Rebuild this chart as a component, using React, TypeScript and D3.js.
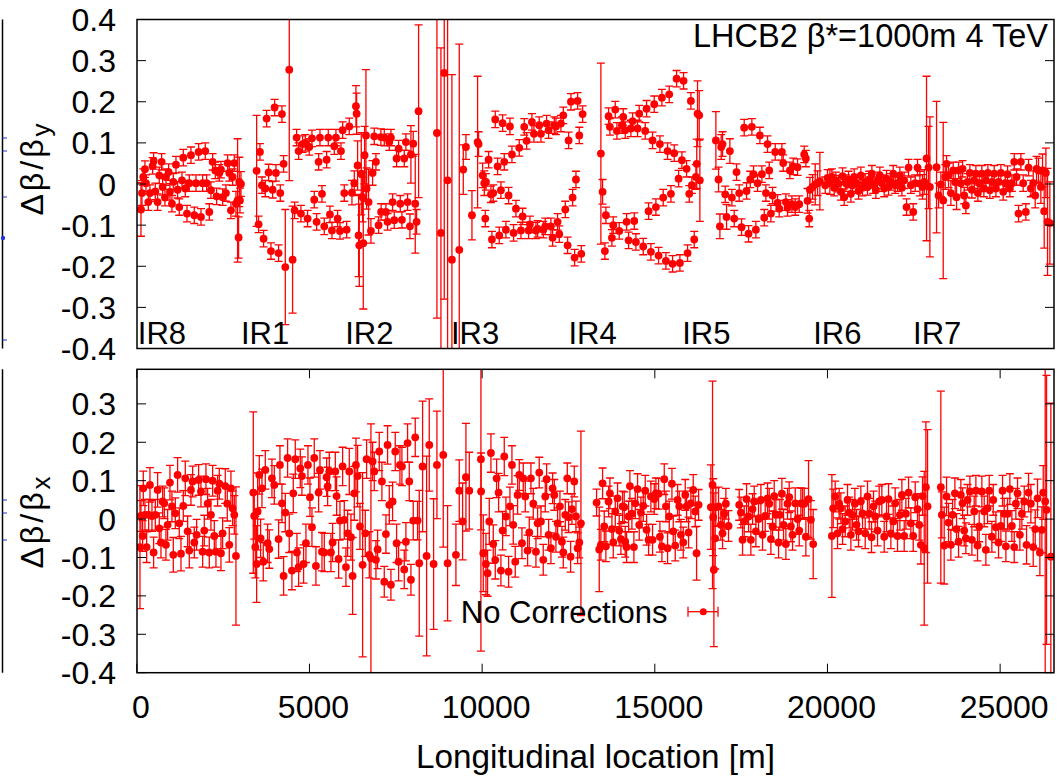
import React from "react";
import * as d3 from "d3";

type P = [number, number, number]; // [s (m), value, error]

// ---------- Δβ/βy (top panel) ----------
const dyIR8: P[] = [
[121,-0.062,0.065],[150,-0.022,0.03],[188,0.017,0.02],[236,0.036,0.02],[265,0.002,0.02],[333,-0.044,0.02],[381,-0.022,0.02],[458,0.044,0.02],[487,0.056,0.02],[536,-0.018,0.02],[603,-0.044,0.02],[651,0.021,0.02],[719,0.054,0.02],[748,-0.007,0.02],[815,-0.033,0.02],[844,0.017,0.02],[922,0.029,0.02],[960,-0.019,0.02],[1018,-0.048,0.02],[1057,0.005,0.02],[1134,0.047,0.02],[1182,-0.014,0.02],[1230,-0.056,0.02],[1308,0.009,0.02],[1346,0.064,0.02],[1404,-0.011,0.02],[1453,-0.072,0.02],[1520,0.002,0.02],[1568,0.07,0.02],[1665,-0.076,0.02],[1713,0.002,0.02],[1790,0.078,0.02],[1858,-0.08,0.02],[1906,0.002,0.02],[1983,0.08,0.02],[2022,0.002,0.02],[2099,-0.068,0.02],[2147,-0.015,0.02],[2196,0.054,0.02],[2273,0.033,0.02],[2311,-0.03,0.02],[2389,0.027,0.02],[2437,0.035,0.02],[2485,-0.032,0.02],[2581,-0.022,0.02],[2630,0.051,0.02],[2678,0.027,0.02],[2726,-0.064,0.02],[2774,0.017,0.02],[2823,0.051,0.02],[2871,-0.048,0.03],[2919,-0.04,0.15],[2948,-0.13,0.05],[2967,0.005,0.06],[2987,-0.04,0.03],[3016,0.0,0.03]
];
const dyIR1: P[] = [
[3470,0.032,0.135],[3527,-0.098,0.02],[3566,0.078,0.02],[3624,-0.003,0.02],[3672,-0.133,0.02],[3721,-0.011,0.02],[3759,0.159,0.02],[3817,0.028,0.02],[3885,-0.163,0.02],[3933,-0.014,0.02],[3991,0.186,0.02],[4029,0.027,0.02],[4106,-0.168,0.02],[4155,-0.022,0.02],[4203,0.17,0.02],[4251,0.049,0.02],[4300,-0.202,0.14],[4415,0.278,0.27],[4512,-0.184,0.13],[4570,-0.064,0.02],[4628,0.113,0.02],[4686,0.08,0.02],[4753,-0.072,0.02],[4801,0.097,0.02],[4879,0.1,0.02],[4946,-0.084,0.02],[4994,0.09,0.02],[5072,0.111,0.02],[5139,-0.038,0.02],[5207,-0.092,0.02],[5265,0.054,0.02],[5304,0.113,0.02],[5362,-0.024,0.02],[5429,-0.103,0.02],[5497,0.059,0.02],[5545,0.113,0.02],[5593,-0.074,0.02],[5651,-0.113,0.02],[5719,0.092,0.02],[5767,0.113,0.02],[5815,-0.084,0.02],[5883,-0.114,0.02],[5912,0.08,0.02],[5960,0.131,0.02],[6008,-0.022,0.02],[6076,-0.111,0.02],[6153,0.14,0.02],[6230,-0.021,0.03],[6298,0.002,0.03],[6346,0.189,0.05],[6366,0.171,0.05],[6394,0.045,0.06],[6423,-0.125,0.1],[6443,-0.149,0.1]
];
const dyIR2: P[] = [
[6500,0.025,0.1],[6538,-0.032,0.06],[6558,-0.144,0.16],[6596,0.07,0.07],[6635,0.118,0.16],[6654,-0.011,0.05],[6712,-0.044,0.08],[6780,-0.114,0.03],[6828,0.027,0.03],[6876,0.116,0.02],[6925,0.054,0.02],[7002,-0.1,0.02],[7069,0.114,0.02],[7075,-0.068,0.02],[7166,0.113,0.02],[7214,-0.068,0.02],[7262,-0.092,0.02],[7311,0.102,0.02],[7359,0.113,0.02],[7407,-0.044,0.02],[7455,-0.088,0.02],[7523,0.062,0.02],[7581,0.086,0.02],[7629,-0.048,0.02],[7677,-0.087,0.02],[7745,0.062,0.02],[7793,0.102,0.02],[7841,-0.044,0.02],[7909,-0.103,0.03],[7938,0.072,0.07],[8005,0.098,0.03],[8063,-0.048,0.12],[8102,-0.092,0.03],[8160,0.177,0.21]
];
const dyIR3: P[] = [
[8691,0.124,0.45],[8807,-0.119,0.45],[8903,0.27,0.55],[9000,0.009,0.45],[9125,-0.184,0.45],[9338,-0.16,0.5],[9454,0.035,0.06],[9531,0.09,0.03],[9705,-0.076,0.06],[9869,0.102,0.16],[9898,0.097,0.03],[10014,0.021,0.03],[10062,0.002,0.03],[10091,-0.084,0.02],[10110,0.005,0.02],[10187,0.059,0.02],[10255,-0.025,0.02],[10284,-0.135,0.02],[10322,-0.022,0.02],[10380,0.157,0.02],[10448,0.043,0.02],[10496,-0.125,0.02],[10544,-0.015,0.02],[10593,0.148,0.02],[10641,0.054,0.02],[10689,-0.111,0.02],[10766,-0.028,0.02],[10805,0.14,0.02],[10863,0.072,0.02],[10911,-0.119,0.02],[10979,-0.06,0.02],[11075,0.088,0.02],[11124,-0.113,0.02],[11172,-0.079,0.02],[11220,0.139,0.02],[11288,0.105,0.02],[11346,-0.113,0.02],[11384,-0.098,0.02],[11442,0.151,0.02],[11500,0.122,0.02],[11558,-0.113,0.02],[11606,-0.109,0.02],[11654,0.143,0.02],[11703,0.122,0.02],[11770,-0.111,0.02],[11828,-0.103,0.02],[11867,0.147,0.02],[11925,0.131,0.02],[11992,-0.103,0.02],[12041,-0.131,0.02],[12089,0.143,0.02],[12137,0.14,0.02],[12185,-0.092,0.02],[12234,-0.122,0.02],[12282,0.147,0.02],[12350,0.167,0.02],[12408,-0.062,0.02],[12475,-0.149,0.02],[12504,0.106,0.02],[12572,0.2,0.02],[12620,-0.033,0.02],[12678,-0.179,0.02],[12717,0.011,0.02],[12765,0.202,0.02],[12813,0.118,0.02],[12871,-0.17,0.02],[12910,0.17,0.02]
];
const dyIR4: P[] = [
[13439,0.074,0.22],[13488,-0.019,0.03],[13555,-0.163,0.02],[13584,-0.076,0.02],[13662,0.165,0.02],[13700,0.139,0.02],[13758,-0.131,0.02],[13797,-0.1,0.02],[13855,0.181,0.02],[13903,0.129,0.02],[13970,-0.114,0.02],[14048,0.143,0.02],[14086,0.163,0.02],[14144,0.131,0.02],[14183,-0.092,0.02],[14241,-0.137,0.02],[14308,0.135,0.02],[14357,0.153,0.02],[14405,-0.09,0.02],[14453,-0.141,0.02],[14501,0.135,0.02],[14549,0.171,0.02],[14665,-0.152,0.02],[14723,0.129,0.02],[14762,0.183,0.02],[14820,-0.066,0.02],[14887,-0.165,0.02],[14935,0.106,0.02],[14984,0.194,0.02],[15032,-0.056,0.02],[15109,-0.174,0.02],[15148,0.097,0.02],[15206,0.21,0.02],[15244,-0.033,0.02],[15322,-0.187,0.02],[15370,0.08,0.02],[15418,0.218,0.02],[15467,-0.024,0.02],[15515,-0.194,0.02],[15563,0.075,0.02],[15631,0.256,0.02],[15689,0.013,0.02],[15727,-0.192,0.02],[15785,0.058,0.02],[15833,0.251,0.02],[15920,0.037,0.02],[15949,-0.168,0.02],[15997,-0.024,0.02],[16045,0.202,0.02],[16074,-0.003,0.02],[16142,-0.135,0.02],[16190,0.017,0.03],[16215,0.049,0.06],[16238,0.171,0.08],[16286,0.167,0.06],[16305,0.009,0.1]
];
const dyIR5: P[] = [
[16769,0.106,0.07],[16846,0.011,0.03],[16885,-0.103,0.03],[16923,0.09,0.03],[16962,0.097,0.03],[17039,-0.025,0.02],[17078,-0.08,0.03],[17174,0.08,0.03],[17232,-0.033,0.02],[17300,-0.084,0.02],[17367,0.029,0.02],[17444,-0.022,0.02],[17512,-0.105,0.02],[17589,0.137,0.02],[17657,-0.017,0.02],[17715,-0.121,0.02],[17763,0.011,0.02],[17811,0.139,0.02],[17860,0.024,0.02],[17927,-0.111,0.02],[17976,0.002,0.02],[18043,0.118,0.02],[18101,0.024,0.02],[18169,-0.082,0.02],[18217,-0.022,0.02],[18265,0.097,0.02],[18313,0.033,0.02],[18362,-0.072,0.02],[18410,-0.028,0.02],[18487,0.078,0.02],[18555,-0.046,0.02],[18603,-0.06,0.02],[18680,0.078,0.02],[18719,0.051,0.02],[18796,-0.044,0.02],[18844,-0.058,0.02],[18912,0.033,0.02],[18970,-0.049,0.02],[19008,0.043,0.02],[19066,-0.056,0.02],[19134,0.041,0.02],[19182,-0.049,0.02],[19327,0.072,0.02],[19375,0.062,0.02],[19423,-0.041,0.03],[19472,-0.084,0.02],[19491,-0.014,0.03],[19568,-0.007,0.03],[19645,-0.001,0.05],[19713,0.002,0.03],[19780,0.007,0.07]
];
const dyIR6: P[] = [
[19935,-0.003,0.02],[20002,0.015,0.02],[20070,0.005,0.03],[20128,0.017,0.02],[20195,-0.009,0.02],[20244,0.009,0.02],[20321,0.001,0.02],[20388,-0.019,0.02],[20437,0.019,0.02],[20485,-0.032,0.02],[20533,0.002,0.02],[20610,0.011,0.02],[20678,-0.024,0.02],[20726,-0.003,0.02],[20774,0.017,0.02],[20842,0.002,0.02],[20900,-0.017,0.02],[20967,0.021,0.02],[21015,-0.009,0.02],[21093,0.005,0.02],[21160,-0.007,0.02],[21209,0.011,0.02],[21286,0.025,0.02],[21324,-0.003,0.02],[21402,-0.015,0.02],[21450,0.009,0.02],[21517,0.021,0.02],[21575,0.002,0.02],[21643,-0.011,0.02],[21710,0.013,0.02],[21768,-0.007,0.02],[21836,0.005,0.02],[21904,0.025,0.02],[21961,-0.003,0.02],[22029,0.002,0.02],[22097,0.021,0.02],[22155,-0.009,0.02],[22222,0.009,0.02],[22290,-0.056,0.02],[22348,0.04,0.02],[22415,-0.003,0.02],[22483,-0.068,0.02],[22541,0.002,0.02],[22608,0.04,0.02],[22676,0.001,0.03],[22753,-0.007,0.03],[22802,0.005,0.03],[22869,0.062,0.2],[22927,0.04,0.1],[22966,-0.007,0.17]
];
const dyIR7: P[] = [
[23159,0.041,0.16],[23217,-0.028,0.03],[23284,-0.001,0.03],[23352,-0.04,0.19],[23410,0.017,0.03],[23448,0.049,0.02],[23506,0.021,0.03],[23574,-0.022,0.03],[23641,0.033,0.02],[23699,0.005,0.03],[23738,-0.032,0.03],[23796,0.033,0.02],[23863,0.002,0.03],[23912,0.037,0.02],[23960,-0.028,0.02],[24008,-0.052,0.02],[24056,0.005,0.02],[24124,0.027,0.02],[24182,-0.014,0.02],[24249,0.009,0.02],[24298,0.025,0.02],[24356,-0.022,0.02],[24394,0.002,0.02],[24471,0.025,0.02],[24529,-0.011,0.02],[24587,0.009,0.02],[24645,0.027,0.02],[24703,-0.015,0.02],[24761,0.005,0.02],[24829,0.025,0.02],[24877,-0.011,0.02],[24954,0.005,0.02],[25022,0.027,0.02],[25089,-0.019,0.02],[25147,0.002,0.02],[25215,0.024,0.02],[25282,-0.011,0.02],[25340,0.002,0.02],[25408,0.054,0.02],[25475,0.017,0.02],[25533,-0.072,0.02],[25601,0.054,0.02],[25668,0.002,0.02],[25745,-0.068,0.02],[25823,0.04,0.02],[25890,-0.011,0.02],[25958,0.002,0.03],[26016,-0.028,0.03],[26054,0.037,0.03],[26112,0.033,0.03],[26180,-0.007,0.04],[26228,0.033,0.04],[26276,-0.066,0.09],[26325,0.027,0.06],[26373,-0.092,0.13],[26440,-0.095,0.1]
];

// ---------- Δβ/βx (bottom panel) ----------
const dxIR8: P[] = [
[92,-0.073,0.16],[121,0.008,0.04],[169,-0.044,0.04],[188,0.08,0.045],[236,0.011,0.04],[285,-0.073,0.04],[343,0.011,0.04],[381,0.089,0.045],[439,0.008,0.04],[487,-0.087,0.04],[536,0.011,0.04],[603,0.076,0.045],[651,-0.024,0.04],[700,-0.061,0.04],[748,0.046,0.04],[796,0.041,0.04],[844,-0.067,0.04],[893,-0.015,0.04],[960,0.095,0.045],[1018,0.033,0.04],[1057,-0.093,0.045],[1115,0.015,0.04],[1182,0.115,0.045],[1230,-0.011,0.04],[1279,-0.09,0.045],[1346,0.034,0.04],[1404,0.106,0.045],[1472,-0.032,0.04],[1520,-0.082,0.045],[1568,0.076,0.04],[1617,0.098,0.04],[1665,-0.061,0.04],[1732,-0.041,0.04],[1790,0.102,0.04],[1858,0.072,0.04],[1906,-0.085,0.04],[1954,-0.03,0.04],[2003,0.104,0.04],[2051,0.04,0.04],[2099,-0.087,0.04],[2147,0.011,0.04],[2196,0.1,0.04],[2244,-0.044,0.04],[2292,-0.085,0.04],[2340,0.074,0.04],[2389,0.092,0.04],[2437,-0.089,0.045],[2485,-0.037,0.04],[2562,0.086,0.045],[2620,0.04,0.045],[2678,-0.067,0.045],[2726,0.08,0.045],[2774,0.028,0.045],[2823,0.011,0.05],[2871,-0.096,0.18]
];
const dxIR1: P[] = [
[3373,0.069,0.21],[3402,0.008,0.06],[3431,-0.073,0.08],[3470,-0.117,0.1],[3499,0.02,0.1],[3547,0.115,0.05],[3585,-0.05,0.05],[3624,0.08,0.05],[3662,-0.111,0.05],[3721,0.128,0.05],[3788,-0.063,0.05],[3836,-0.078,0.05],[3913,0.106,0.05],[3981,0.089,0.05],[4106,-0.052,0.05],[4145,0.141,0.05],[4203,0.041,0.05],[4251,-0.148,0.05],[4300,0.017,0.05],[4367,0.159,0.05],[4415,-0.037,0.05],[4492,-0.134,0.05],[4531,0.067,0.05],[4589,0.156,0.05],[4637,-0.087,0.05],[4686,-0.125,0.05],[4734,0.132,0.05],[4782,0.112,0.05],[4830,-0.117,0.05],[4898,-0.063,0.05],[4956,0.141,0.05],[5014,0.057,0.05],[5072,-0.021,0.05],[5139,0.159,0.05],[5187,-0.122,0.05],[5265,0.069,0.05],[5304,0.128,0.05],[5362,-0.085,0.05],[5429,-0.087,0.05],[5497,0.109,0.05],[5526,0.085,0.05],[5574,0.124,0.05],[5622,-0.087,0.05],[5670,-0.061,0.05],[5748,0.124,0.05],[5786,0.06,0.05],[5844,-0.104,0.05],[5883,-0.004,0.05],[5960,0.137,0.05],[6008,-0.002,0.05],[6056,-0.125,0.05],[6105,-0.037,0.06],[6153,0.124,0.06],[6201,-0.047,0.06],[6249,-0.148,0.1],[6298,0.067,0.07],[6346,0.141,0.07],[6394,0.112,0.08]
];
const dxIR2: P[] = [
[6462,-0.019,0.06],[6539,-0.119,0.24],[6616,-0.037,0.06],[6654,0.156,0.05],[6732,-0.093,0.06],[6780,-0.102,0.35],[6828,0.15,0.05],[6876,0.124,0.05],[6925,-0.106,0.05],[6973,-0.079,0.05],[7021,0.176,0.05],[7098,0.098,0.05],[7166,-0.163,0.04],[7214,-0.039,0.05],[7262,0.193,0.05],[7311,0.037,0.05],[7359,-0.171,0.04],[7407,0.046,0.05],[7484,0.176,0.05],[7523,-0.063,0.05],[7581,-0.111,0.05],[7620,0.141,0.05],[7677,0.137,0.05],[7745,-0.131,0.05],[7793,-0.059,0.05],[7841,0.198,0.05],[7890,0.098,0.05],[7938,-0.158,0.04],[8005,-0.004,0.05],[8063,0.213,0.05],[8131,-0.004,0.05],[8179,-0.115,0.19],[8276,0.137,0.17],[8392,-0.096,0.26],[8469,0.193,0.12],[8595,-0.117,0.17],[8691,0.141,0.14],[8874,0.167,0.24],[9000,-0.115,0.15],[9241,-0.093,0.08],[9338,0.074,0.08],[9434,-0.006,0.1],[9531,0.109,0.14],[9628,0.074,0.1],[9965,0.156,0.5],[9970,0.072,0.1],[10033,-0.089,0.1],[10110,-0.117,0.08],[10158,-0.141,0.06],[10207,-0.006,0.06],[10255,0.172,0.05],[10322,-0.065,0.05],[10380,-0.106,0.05],[10419,0.106,0.05],[10477,0.069,0.05],[10544,-0.134,0.04],[10593,-0.03,0.05],[10641,0.163,0.05],[10689,0.007,0.05],[10766,-0.137,0.04],[10805,0.033,0.05],[10863,0.141,0.05],[10901,-0.015,0.05],[10959,-0.111,0.04],[11027,0.063,0.05],[11075,0.115,0.04],[11153,-0.063,0.04],[11191,0.106,0.04],[11249,0.059,0.04],[11317,-0.082,0.04],[11365,-0.035,0.04],[11413,0.106,0.04],[11481,0.04,0.04],[11558,-0.085,0.04],[11606,-0.011,0.04],[11654,0.121,0.04],[11703,-0.006,0.04],[11770,-0.106,0.04],[11828,0.059,0.04],[11867,0.104,0.04],[11925,-0.041,0.04],[11992,-0.076,0.04],[12041,0.08,0.04],[12089,0.063,0.04],[12137,-0.046,0.04],[12185,-0.011,0.04],[12253,0.033,0.04],[12311,-0.059,0.04],[12350,-0.087,0.04],[12408,0.011,0.04],[12466,0.106,0.04],[12504,0.005,0.04],[12562,-0.098,0.04],[12601,0.026,0.04],[12668,0.098,0.04],[12717,0.007,0.04],[12765,-0.076,0.04],[12813,-0.061,0.04],[12861,-0.011,0.24]
];
const dxIR4: P[] = [
[13314,0.043,0.035],[13391,-0.079,0.11],[13439,-0.067,0.04],[13488,0.093,0.04],[13536,-0.019,0.04],[13584,-0.071,0.04],[13662,0.046,0.04],[13700,0.067,0.04],[13758,-0.026,0.04],[13797,-0.061,0.04],[13855,0.02,0.04],[13922,0.054,0.04],[13970,-0.03,0.04],[14019,-0.052,0.04],[14067,0.033,0.04],[14115,0.031,0.04],[14144,-0.059,0.04],[14183,-0.073,0.04],[14241,0.007,0.04],[14279,0.086,0.04],[14337,0.014,0.04],[14395,-0.073,0.04],[14434,0.041,0.04],[14501,0.078,0.04],[14549,-0.015,0.04],[14598,0.017,0.04],[14665,0.034,0.04],[14723,0.074,0.04],[14762,-0.028,0.04],[14820,-0.054,0.04],[14887,0.059,0.04],[14935,-0.054,0.04],[14984,0.052,0.04],[15032,0.067,0.04],[15109,0.066,0.04],[15148,-0.046,0.04],[15206,-0.071,0.04],[15274,0.104,0.04],[15322,0.033,0.04],[15370,-0.076,0.04],[15418,0.007,0.04],[15496,0.092,0.04],[15534,-0.032,0.04],[15592,-0.069,0.04],[15660,0.05,0.04],[15708,0.033,0.04],[15756,-0.041,0.04],[15824,-0.061,0.04],[15882,0.063,0.04],[15920,0.033,0.04],[15978,-0.035,0.04],[16045,0.041,0.04],[16113,0.076,0.04],[16171,0.02,0.04],[16210,-0.089,0.07],[16268,0.037,0.04]
];
const dxIR5: P[] = [
[16624,0.031,0.11],[16672,0.089,0.27],[16691,0.005,0.1],[16711,-0.132,0.2],[16749,-0.05,0.08],[16768,0.031,0.05],[16846,0.033,0.05],[16913,-0.015,0.04],[16962,-0.037,0.04],[17010,0.014,0.04],[17058,0.04,0.04],[17135,-0.018,0.04],[17444,0.037,0.04],[17493,0.017,0.04],[17541,-0.054,0.04],[17589,-0.006,0.04],[17657,0.052,0.04],[17715,0.007,0.04],[17782,-0.054,0.04],[17831,0.026,0.04],[17879,0.046,0.04],[17927,-0.032,0.04],[18004,0,0.04],[18072,0.05,0.04],[18120,-0.041,0.04],[18197,0.008,0.04],[18265,0.054,0.04],[18313,0.04,0.04],[18362,-0.052,0.04],[18410,-0.019,0.04],[18458,0.06,0.04],[18506,0.011,0.04],[18584,-0.061,0.04],[18622,0.011,0.04],[18680,0.066,0.04],[18728,-0.015,0.04],[18796,-0.065,0.04],[18844,0.04,0.04],[18892,0.057,0.04],[18941,-0.019,0.04],[18989,-0.041,0.04],[19066,0.041,0.04],[19134,0,0.04],[19182,-0.03,0.04],[19230,0.041,0.04],[19279,0.04,0.04],[19327,0.04,0.04],[19375,-0.046,0.05],[19452,0.052,0.1],[19520,-0.002,0.05],[19587,-0.065,0.09]
];
const dxIR6: P[] = [
[20128,-0.044,0.16],[20166,0.028,0.05],[20224,0.059,0.04],[20292,-0.037,0.04],[20340,0.04,0.04],[20388,0.028,0.04],[20437,-0.026,0.04],[20514,-0.006,0.04],[20581,0.05,0.04],[20630,0.017,0.04],[20678,-0.041,0.04],[20726,0.011,0.04],[20794,0.04,0.04],[20842,-0.015,0.04],[20900,-0.032,0.04],[20967,0.046,0.04],[21015,0.015,0.04],[21093,-0.037,0.04],[21160,0.059,0.04],[21209,0.014,0.04],[21276,-0.047,0.04],[21334,0.033,0.04],[21382,0.007,0.04],[21450,-0.03,0.04],[21498,0.046,0.04],[21575,0.05,0.04],[21643,-0.046,0.04],[21710,0.007,0.04],[21768,0.052,0.04],[21836,-0.037,0.04],[21904,-0.006,0.04],[21961,0.041,0.04],[22029,-0.044,0.04],[22097,0.011,0.04],[22155,0.063,0.04],[22222,-0.044,0.04],[22271,0.014,0.04],[22348,0.069,0.04],[22415,-0.011,0.04],[22483,-0.044,0.04],[22541,0.057,0.04],[22608,0.026,0.04],[22657,-0.015,0.04],[22705,-0.067,0.05],[22753,0.06,0.05],[22802,-0.076,0.2],[22850,0.083,0.17],[22898,0.033,0.2]
];
const dxIR7: P[] = [
[23283,0.083,0.25],[23312,0.011,0.06],[23380,-0.069,0.1],[23448,0.059,0.05],[23506,-0.009,0.05],[23574,-0.067,0.04],[23622,0.011,0.04],[23690,0.067,0.04],[23738,-0.026,0.04],[23796,-0.059,0.04],[23863,0.063,0.04],[23912,0.041,0.04],[23960,-0.03,0.04],[24008,-0.05,0.04],[24056,0.05,0.04],[24124,0.072,0.04],[24182,-0.054,0.04],[24249,0.02,0.04],[24298,0.074,0.04],[24346,-0.069,0.04],[24394,-0.019,0.04],[24471,0.072,0.04],[24539,0.02,0.04],[24587,-0.08,0.04],[24635,0.028,0.04],[24684,0.074,0.04],[24761,-0.046,0.04],[24800,0.05,0.04],[24877,-0.021,0.04],[24954,-0.061,0.04],[25022,-0.018,0.04],[25070,0.074,0.04],[25118,0.014,0.04],[25167,-0.071,0.04],[25215,0.014,0.04],[25282,0.078,0.04],[25340,-0.018,0.04],[25408,-0.073,0.04],[25456,0.04,0.04],[25504,0.067,0.04],[25572,-0.041,0.04],[25630,0.014,0.04],[25698,0.046,0.04],[25765,-0.067,0.05],[25823,0.069,0.05],[25890,0.04,0.05],[25958,-0.073,0.05],[26016,-0.026,0.05],[26083,0.054,0.05],[26151,-0.087,0.06],[26209,-0.028,0.06],[26248,0.069,0.07],[26305,0.046,0.45],[26344,0.024,0.35],[26469,-0.098,0.4]
];

// ---------- axes / labels ----------
const xDomain = [0, 26560];
const xTickValues = [0, 5000, 10000, 15000, 20000, 25000];
const xTickLabels = ["0", "5000", "10000", "15000", "20000", "25000"];
const yTopDomain = [-0.4, 0.4];
const yTopTickValues = [0.4, 0.3, 0.2, 0.1, 0, -0.1, -0.2, -0.3, -0.4];
const yTopTickLabels = ["0.4", "0.3", "0.2", "0.1", "0", "-0.1", "-0.2", "-0.3", "-0.4"];
const yBotDomain = [-0.4, 0.39];
const yBotTickValues = [0.3, 0.2, 0.1, 0, -0.1, -0.2, -0.3, -0.4];
const yBotTickLabels = ["0.3", "0.2", "0.1", "0", "-0.1", "-0.2", "-0.3", "-0.4"];
const irNames = ["IR8", "IR1", "IR2", "IR3", "IR4", "IR5", "IR6", "IR7"];
const irLabelS = [29, 3017, 6036, 9098, 12500, 15793, 19585, 22480];
const irLabelY = -0.388;
const titleText = "LHCB2 β*=1000m 4 TeV";
const legendText = "No Corrections";
const xAxisTitle = "Longitudinal location [m]";

const topData: P[] = [...dyIR8, ...dyIR1, ...dyIR2, ...dyIR3, ...dyIR4, ...dyIR5, ...dyIR6, ...dyIR7];
const botData: P[] = [...dxIR8, ...dxIR1, ...dxIR2, ...dxIR4, ...dxIR5, ...dxIR6, ...dxIR7];

const FONT = "'Liberation Sans', Arial, Helvetica, sans-serif";
const RED = "#ff0000";
const L = 137, R = 1054;
const XR0 = 136.8;
const TOP = { y0: 19.5, y1: 348.5 };
const BOT = { y0: 369.3, y1: 672.7 };

const x = d3.scaleLinear().domain(xDomain).range([XR0, R]);
const yT = d3.scaleLinear().domain(yTopDomain).range([TOP.y1, TOP.y0]);
const yB = d3.scaleLinear().domain(yBotDomain).range([BOT.y1, BOT.y0]);

function ErrPoints({ data, y, clip }: { data: P[]; y: d3.ScaleLinear<number, number>; clip: string }) {
  const cap = 4;
  return (
    <g clipPath={`url(#${clip})`}>
      <g stroke={RED} strokeWidth={1.3} fill="none">
        {data.map((d, i) => {
          const cx = x(d[0]);
          const ya = y(d[1] - d[2]);
          const yb = y(d[1] + d[2]);
          return (
            <path key={i} d={`M${cx},${ya}V${yb}M${cx - cap},${ya}H${cx + cap}M${cx - cap},${yb}H${cx + cap}`} />
          );
        })}
      </g>
      <g fill={RED}>
        {data.map((d, i) => (
          <circle key={i} cx={x(d[0])} cy={y(d[1])} r={3.9} />
        ))}
      </g>
    </g>
  );
}

function Frame({ y0, y1, y, vals, labels, xticks }: any) {
  const tl = 9;
  return (
    <g>
      <g stroke="#000" strokeWidth={1}>
        {vals.map((v: number, i: number) => (
          <g key={i}>
            <line x1={L} x2={L + tl} y1={y(v)} y2={y(v)} />
            <line x1={R} x2={R - tl} y1={y(v)} y2={y(v)} />
          </g>
        ))}
        {xticks &&
          xTickValues.map((v, i) => (
            <g key={"x" + i}>
              <line x1={x(v)} x2={x(v)} y1={y1} y2={y1 - tl} />
              <line x1={x(v)} x2={x(v)} y1={y0} y2={y0 + tl} />
            </g>
          ))}
      </g>
      <rect x={L} y={y0} width={R - L} height={y1 - y0} fill="none" stroke="#000" strokeWidth={1.5} />
      <g fontFamily={FONT} fontSize={32} textAnchor="end" fill="#000">
        {vals.map((v: number, i: number) => (
          <text key={i} x={116} y={y(v) + 11.5}>
            {labels[i]}
          </text>
        ))}
      </g>
    </g>
  );
}

export default function App() {
  const blueTop = [138, 151, 197, 340];
  const blueBot = [500, 513, 540];
  return (
    <svg width={1058} height={777} style={{ position: "absolute", left: 0, top: 0, background: "#fff" }}>
      <defs>
        <clipPath id="clipTop">
          <rect x={L} y={TOP.y0} width={R - L} height={TOP.y1 - TOP.y0} />
        </clipPath>
        <clipPath id="clipBot">
          <rect x={L} y={BOT.y0} width={R - L} height={BOT.y1 - BOT.y0} />
        </clipPath>
      </defs>
      <rect x={0} y={0} width={1058} height={777} fill="#fff" />

      {/* fragment of neighbouring figure at left edge */}
      <g stroke="#000" strokeWidth={1.5}>
        <line x1={2.5} x2={2.5} y1={TOP.y0} y2={TOP.y1} />
        <line x1={2.5} x2={2.5} y1={BOT.y0} y2={BOT.y1} />
      </g>
      <g stroke="#2233dd" strokeWidth={1}>
        {[...blueTop, ...blueBot].map((v, i) => (
          <line key={i} x1={2.5} x2={7} y1={v} y2={v} />
        ))}
      </g>
      <circle cx={3} cy={238} r={2.2} fill="#2233dd" />

      <ErrPoints data={topData} y={yT} clip="clipTop" />
      <ErrPoints data={botData} y={yB} clip="clipBot" />

      <Frame y0={TOP.y0} y1={TOP.y1} y={yT} vals={yTopTickValues} labels={yTopTickLabels} xticks={false} />
      <Frame y0={BOT.y0} y1={BOT.y1} y={yB} vals={yBotTickValues} labels={yBotTickLabels} xticks={true} />

      {/* IR labels */}
      <g fontFamily={FONT} fontSize={31} fill="#000">
        {irNames.map((n, i) => (
          <text key={n} x={x(irLabelS[i])} y={yT(irLabelY)}>
            {n}
          </text>
        ))}
      </g>

      {/* title */}
      <text x={1048} y={47} textAnchor="end" fontFamily={FONT} fontSize={32.5} fill="#000">
        {titleText}
      </text>

      {/* y titles */}
      <text transform={`translate(43,168) rotate(-90)`} textAnchor="middle" fontFamily={FONT} fontSize={32} letterSpacing={3} fill="#000">
        Δβ/β<tspan fontSize={26} dy={7}>y</tspan>
      </text>
      <text transform={`translate(43,521) rotate(-90)`} textAnchor="middle" fontFamily={FONT} fontSize={32} letterSpacing={3} fill="#000">
        Δβ/β<tspan fontSize={26} dy={7}>x</tspan>
      </text>

      {/* x tick labels */}
      <g fontFamily={FONT} fontSize={32} textAnchor="middle" fill="#000">
        {xTickValues.map((v, i) => (
          <text key={i} x={x(v) + 4} y={718}>
            {xTickLabels[i]}
          </text>
        ))}
      </g>
      <text x={595.5} y={768} textAnchor="middle" fontFamily={FONT} fontSize={33.3} fill="#000">
        {xAxisTitle}
      </text>

      {/* legend */}
      <text x={667.5} y={623} textAnchor="end" fontFamily={FONT} fontSize={31} fill="#000">
        {legendText}
      </text>
      <g stroke={RED} strokeWidth={1.3}>
        <line x1={688} x2={718} y1={611.7} y2={611.7} />
        <line x1={688} x2={688} y1={606.7} y2={616.7} />
        <line x1={718} x2={718} y1={606.7} y2={616.7} />
      </g>
      <circle cx={703.3} cy={611.7} r={3.5} fill={RED} />
    </svg>
  );
}
